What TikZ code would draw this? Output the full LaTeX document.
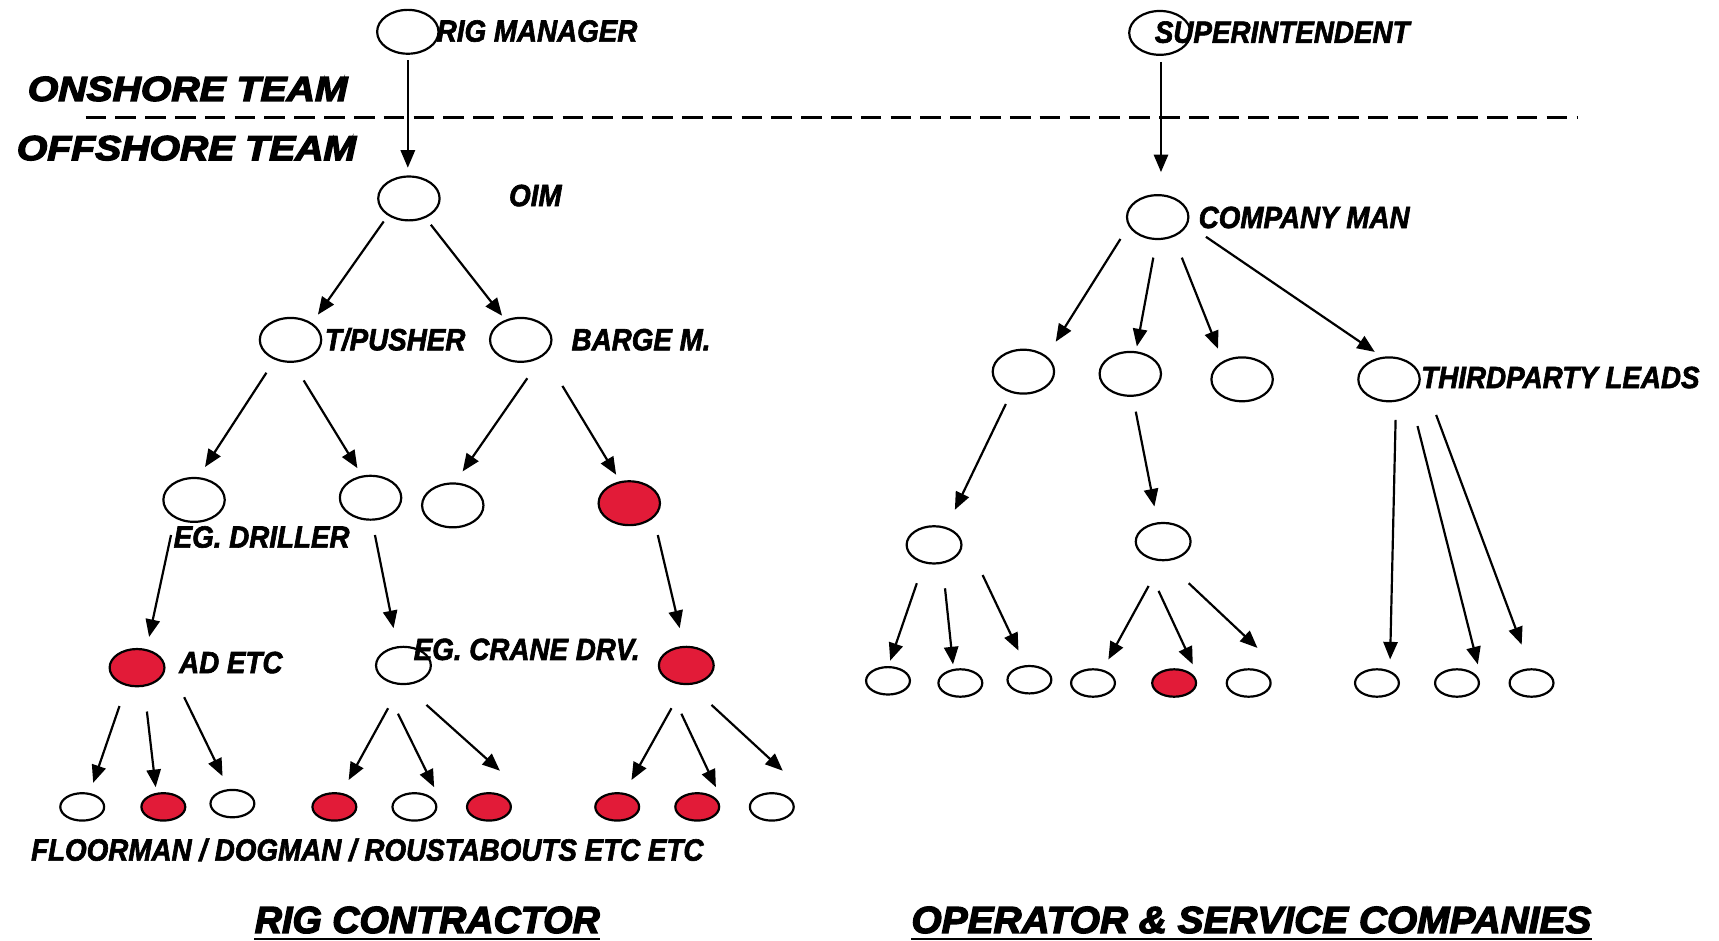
\documentclass[tikz,border=0pt]{standalone}
\usepackage{fontspec}
\usetikzlibrary{shapes.geometric,arrows.meta,calc}
\newfontfamily\lblfont[FakeStretch=0.905,FakeBold=2]{Liberation Sans}
\newfontfamily\ttlfont[FakeStretch=1.13,FakeBold=4]{Liberation Sans}
\newfontfamily\hdfont[FakeBold=3.5]{Liberation Sans}
\newfontfamily\hdfontb[FakeStretch=1.03,FakeBold=3.5]{Liberation Sans}
\definecolor{myred}{RGB}{226,27,56}
\tikzset{
  bn/.style={ellipse, draw, line width=1pt, fill=white, inner sep=0pt, minimum width=28pt, minimum height=20pt},
  mn/.style={ellipse, draw, line width=1pt, fill=white, inner sep=0pt, minimum width=25pt, minimum height=17pt},
  sn/.style={ellipse, draw, line width=1pt, fill=white, inner sep=0pt, minimum width=20pt, minimum height=12.5pt},
  rf/.style={fill=myred},
  arr/.style={line width=1pt, -{Triangle[length=8pt,width=6.5pt]}},
  lbl/.style={anchor=base west, inner sep=0pt, font=\lblfont\bfseries\itshape\fontsize{14pt}{16pt}\selectfont},
  ttl/.style={anchor=base west, inner sep=0pt, font=\ttlfont\bfseries\itshape\fontsize{15.8pt}{18pt}\selectfont},
  hd/.style={anchor=base west, inner sep=0pt, font=\hdfont\bfseries\itshape\fontsize{17.2pt}{20pt}\selectfont},
  hdb/.style={anchor=base west, inner sep=0pt, font=\hdfontb\bfseries\itshape\fontsize{17.2pt}{20pt}\selectfont},
  sep/.style={line width=1.1pt, dash pattern=on 9.4pt off 4.2pt},
}
\newcommand\arw[4]{\draw[arr] ($(#1)+(#2)$) -- ($(#3)+(#4)$);}
\begin{document}
\begin{tikzpicture}[x=0.5pt,y=-0.5pt]
\useasboundingbox (0,0) rectangle (1568,858);
\fill[white] (0,0) rectangle (1568,858);
% separator
\coordinate (sepL) at (78,107);
\coordinate (sepR) at (1439,107);
\draw[sep] (sepL) -- (sepR);
% ---------------- left tree ----------------
\node[bn] (rm) at (372,29) {};
\node[bn] (oim) at (373,181) {};
\node[bn] (tp) at (265,310) {};
\node[bn] (bm) at (475,310) {};
\node[bn] (la) at (177,456) {};
\node[bn] (lb) at (338,454) {};
\node[bn] (lc) at (413,461) {};
\node[bn,rf] (ld) at (574,459) {};
\node[mn,rf] (ad) at (125,609) {};
\node[mn] (cr) at (368,607) {};
\node[mn,rf] (le) at (626,607) {};
\node[sn] (s1) at (75,736) {};
\node[sn,rf] (s2) at (149,736) {};
\node[sn] (s3) at (212,733) {};
\node[sn,rf] (s4) at (305,736) {};
\node[sn] (s5) at (378,736) {};
\node[sn,rf] (s6) at (446,736) {};
\node[sn,rf] (s7) at (563,736) {};
\node[sn,rf] (s8) at (636,736) {};
\node[sn] (s9) at (704,736) {};
% ---------------- right tree ----------------
\node[bn] (sup) at (1058,30) {};
\node[bn] (cm) at (1056,198) {};
\node[bn] (ra) at (933.5,339) {};
\node[bn] (rb) at (1031,341) {};
\node[bn] (rc) at (1133,346) {};
\node[bn] (tpl) at (1267,346) {};
\node[mn] (r3a) at (852,497) {};
\node[mn] (r3b) at (1061,494) {};
\node[sn] (r4a) at (810,621) {};
\node[sn] (r4b) at (876,623) {};
\node[sn] (r4c) at (939,620) {};
\node[sn] (r4d) at (997,623) {};
\node[sn,rf] (r4e) at (1071,623) {};
\node[sn] (r4f) at (1139,623) {};
\node[sn] (r4g) at (1256,623) {};
\node[sn] (r4h) at (1329,623) {};
\node[sn] (r4i) at (1397,623) {};
% ---------------- arrows left ----------------
\arw{rm}{0,26}{oim}{-1,-28}
\arw{oim}{-23,21}{tp}{25,-23}
\arw{oim}{20,24}{bm}{-17,-22}
\arw{tp}{-22,30}{la}{10,-30}
\arw{tp}{12,37}{lb}{-12,-27}
\arw{bm}{6,35}{lc}{9,-31}
\arw{bm}{38,42}{ld}{-12,-26}
\arw{la}{-21,32}{ad}{11,-28}
\arw{lb}{4,34}{cr}{-9,-34}
\arw{ld}{26,29}{le}{-6,-34}
\arw{ad}{-16,35}{s1}{10,-22}
\arw{ad}{9,40}{s2}{-7,-18}
\arw{ad}{43,27}{s3}{-9,-25}
\arw{cr}{-14,39}{s4}{13,-24.5}
\arw{cr}{-5,44}{s5}{18,-18}
\arw{cr}{21,36}{s6}{10,-33}
\arw{le}{-13.5,39}{s7}{13,-24.5}
\arw{le}{-4.5,44}{s8}{17,-18}
\arw{le}{23,36}{s9}{10,-33}
% ---------------- arrows right ----------------
\arw{sup}{1,26.5}{cm}{3,-41}
\arw{cm}{-34,20}{ra}{29.5,-27.3}
\arw{cm}{-4,37}{rb}{6,-25}
\arw{cm}{22,37}{rc}{-22,-28}
\arw{cm}{44,18}{tpl}{-13,-25}
\arw{ra}{-16,29.5}{r3a}{19,-32}
\arw{rb}{5,34.5}{r3b}{-8,-32}
\arw{tpl}{6,37}{r4g}{12,-21.5}
\arw{tpl}{26,42.6}{r4h}{19,-17}
\arw{tpl}{43,32.5}{r4i}{-9,-35}
\arw{r3a}{-15.7,35}{r4a}{2,-18.4}
\arw{r3a}{10,39.6}{r4b}{-6.7,-17}
\arw{r3a}{44.3,27.5}{r4c}{-10,-26.6}
\arw{r3b}{-13.3,40.5}{r4d}{14,-21.5}
\arw{r3b}{-4.2,45}{r4e}{17,-17}
\arw{r3b}{23.3,38}{r4f}{8,-32}
% ---------------- labels ----------------
\node[lbl] (trm) at (398,38) {RIG MANAGER};
\node[ttl] (ton) at (25,92) {ONSHORE TEAM};
\node[ttl] (toff) at (15,146) {OFFSHORE TEAM};
\node[lbl] (toim) at (464,188) {OIM};
\node[lbl] (ttp) at (296,319.5) {T/PUSHER};
\node[lbl] (tbm) at (521,319.5) {BARGE M.};
\node[lbl] (tdr) at (158,499.5) {EG. DRILLER};
\node[lbl] (tad) at (163,614) {AD ETC};
\node[lbl] (tcr) at (377,602) {EG. CRANE DRV.};
\node[lbl] (tfl) at (28,785) {FLOORMAN / DOGMAN / ROUSTABOUTS ETC ETC};
\node[lbl] (tsup) at (1053,39) {SUPERINTENDENT};
\node[lbl] (tcm) at (1093,208) {COMPANY MAN};
\node[lbl] (ttpl) at (1296,354) {THIRDPARTY LEADS};
\node[hd] (trc) at (232,851) {RIG CONTRACTOR};
\node[hdb] (tosc) at (831,851) {OPERATOR \& SERVICE COMPANIES};
\draw[line width=1pt] ([yshift=-2.8pt]trc.base west) -- ([yshift=-2.8pt]trc.base east);
\draw[line width=1pt] ([yshift=-2.8pt]tosc.base west) -- ([yshift=-2.8pt]tosc.base east);
\end{tikzpicture}
\end{document}
